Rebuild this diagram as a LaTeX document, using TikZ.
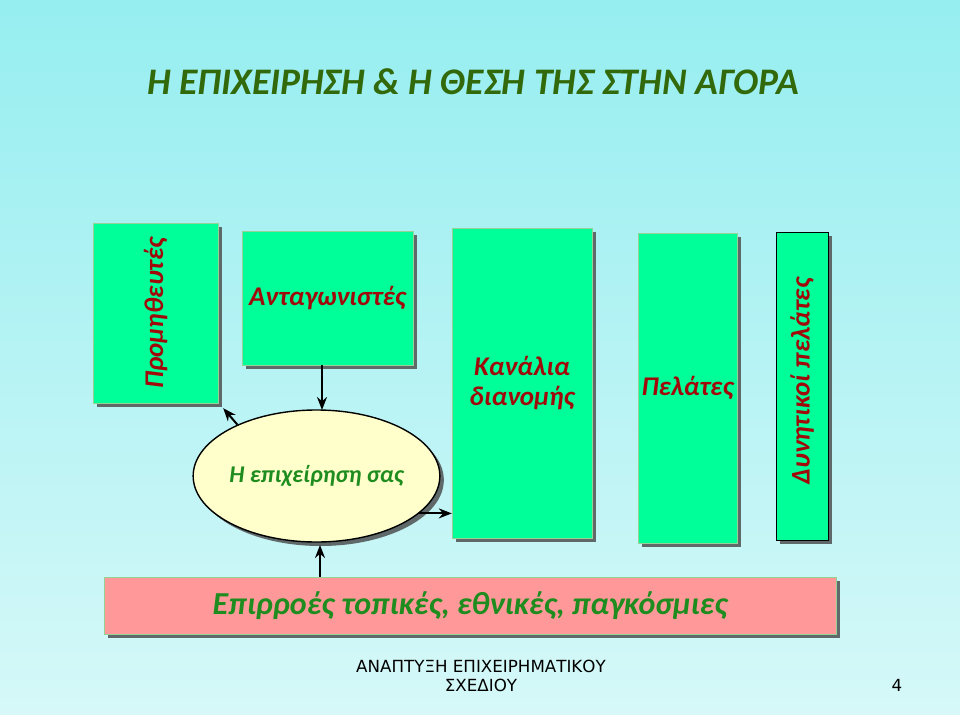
\documentclass[tikz,border=0pt]{standalone}
\usepackage{fontspec}
\setmainfont{Carlito}
\newfontfamily\footfont{DejaVu Sans}
\usetikzlibrary{shapes.geometric,shadows,arrows.meta}

\definecolor{bgtop}{RGB}{150,238,240}
\definecolor{bgbottom}{RGB}{214,248,248}
\definecolor{boxgreen}{RGB}{0,255,153}
\definecolor{boxline}{RGB}{150,210,150}
\definecolor{shadowgray}{RGB}{95,105,105}
\definecolor{labelred}{RGB}{160,10,10}
\definecolor{firmgreen}{RGB}{30,140,30}
\definecolor{titlegreen}{RGB}{50,105,10}
\definecolor{firmfill}{RGB}{255,255,204}
\definecolor{inflpink}{RGB}{255,153,153}

\tikzset{
  panel/.style={rectangle, draw=boxline, fill=boxgreen, inner sep=0pt,
    drop shadow={shadow xshift=4pt, shadow yshift=-4pt, fill=shadowgray, opacity=1}},
  paneltext/.style={text=labelred, align=center, font=\bfseries\itshape\fontsize{27}{30}\selectfont},
  link/.style={-{Stealth[length=13pt,width=10pt]}, line width=2pt}
}

\begin{document}
\begin{tikzpicture}[x=1pt, y=-1pt]
    % Background
    \shade[top color=bgtop, bottom color=bgbottom] (0,0) rectangle (960,714);
    \useasboundingbox (0,0) rectangle (960,714);

    % Title
    \node (title) [text=titlegreen, font=\bfseries\itshape\fontsize{37.5}{42}\selectfont] at (473,82) {Η ΕΠΙΧΕΙΡΗΣΗ \& Η ΘΕΣΗ ΤΗΣ ΣΤΗΝ ΑΓΟΡΑ};

    % Boxes
    \node (supp) [panel, minimum width=125pt, minimum height=180pt] at (155.5,313) {};
    \node (supplabel) [paneltext, rotate=90] at (supp) {Προμηθευτές};
    \node (comp) [panel, minimum width=171pt, minimum height=134pt] at (327.5,298) {};
    \node (complabel) [paneltext] at (comp) {Ανταγωνιστές};
    \node (chan) [panel, minimum width=140pt, minimum height=310pt] at (522,383) {};
    \node (chanlabel) [paneltext] at (chan) {Κανάλια\\διανομής};
    \node (cust) [panel, minimum width=99pt, minimum height=310pt] at (687.5,388) {};
    \node (custlabel) [paneltext] at (cust) {Πελάτες};
    \node (pros) [panel, draw=black, minimum width=52pt, minimum height=308pt] at (802,386) {};
    \node (proslabel) [paneltext, rotate=90] at (802,381) {Δυνητικοί πελάτες};

    % The firm
    \node (firm) [ellipse, draw=black, line width=1.4pt, fill=firmfill, inner sep=0pt,
        minimum width=243pt, minimum height=132pt, text=firmgreen,
        font=\bfseries\itshape\fontsize{24}{28}\selectfont,
        drop shadow={shadow xshift=4pt, shadow yshift=-4pt, fill=shadowgray, opacity=1}] at (316.5,476) {Η επιχείρηση σας};

    % Influences
    \node (infl) [panel, fill=inflpink, minimum width=732pt, minimum height=57pt,
        text=firmgreen, font=\bfseries\itshape\fontsize{32}{35}\selectfont] at (470,605.5) {Επιρροές τοπικές, εθνικές, παγκόσμιες};

    % Arrows
    \draw[link] (comp.south -| 322,0) -- (322,410);
    \draw[link] (firm.147) -- ([xshift=5pt, yshift=-5pt]supp.south east);
    \draw[link] (firm.-20) -- (firm.-20 -| chan.west);
    \draw[link] (infl.north -| 320,0) -- (320,545);

    % Footer
    \node (foot) [font=\footfont\fontsize{16.7}{19}\selectfont, align=center] at (481,676) {ΑΝΑΠΤΥΞΗ ΕΠΙΧΕΙΡΗΜΑΤΙΚΟΥ\\ΣΧΕΔΙΟΥ};
    \node (page) [font=\footfont\fontsize{16.7}{19}\selectfont] at (897,685) {4};
\end{tikzpicture}
\end{document}
